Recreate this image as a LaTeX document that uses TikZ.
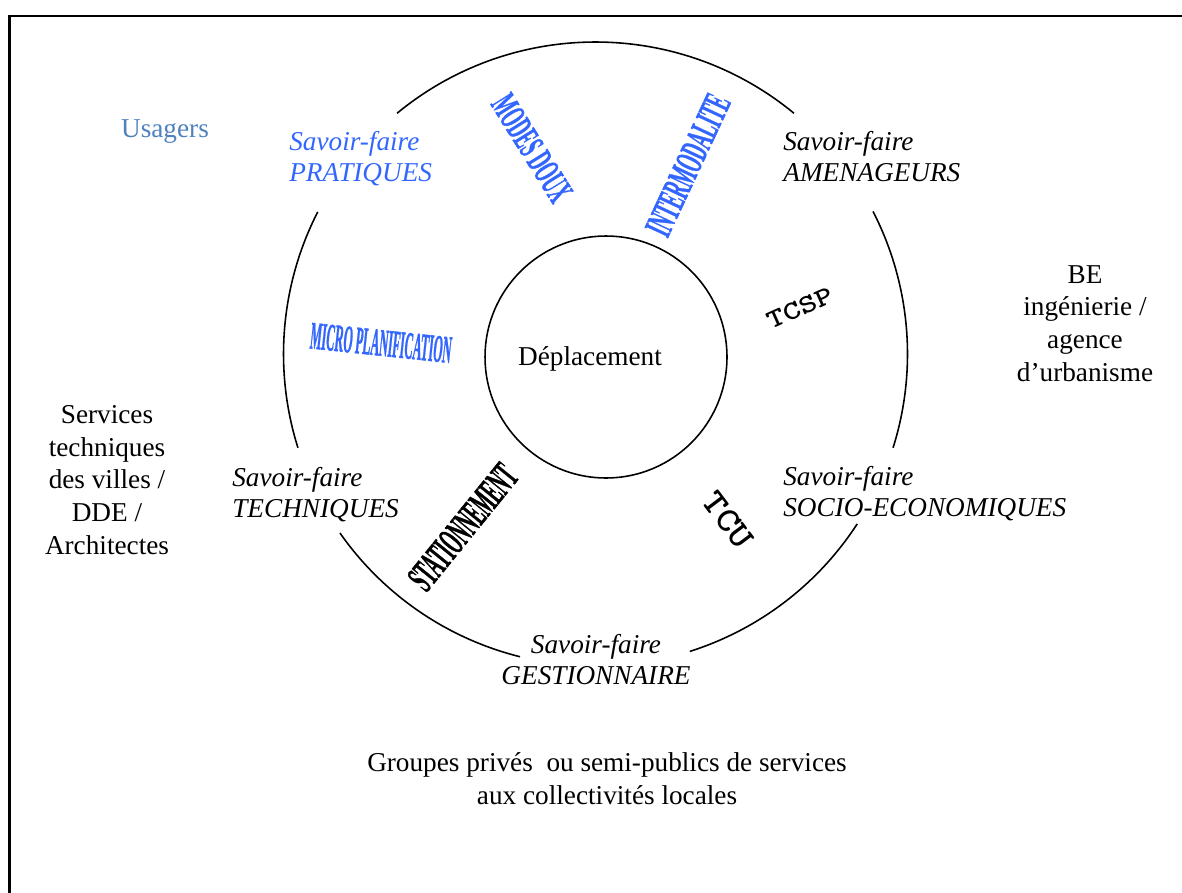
\documentclass[tikz,border=0pt]{standalone}
\usepackage{fontspec}
\setmainfont{Liberation Serif}
\newfontfamily\wafont[BoldFeatures={FakeBold=1.5}]{Liberation Serif}
\usetikzlibrary{positioning}
\definecolor{bl}{RGB}{51,102,255}
\definecolor{us}{RGB}{79,129,189}

\tikzset{
    plain/.style={font=\fontsize{15.5}{18.5}\selectfont, align=center, inner sep=0pt},
    savoir/.style={font=\fontsize{15.5}{17.1}\selectfont\itshape, align=left, inner sep=0pt},
    wart/.style={font=\fontsize{17}{17}\selectfont\wafont\bfseries, inner sep=0pt},
    mono/.style={font=\fontsize{19}{19}\selectfont\ttfamily\bfseries, inner sep=0pt}
}

\begin{document}
\begin{tikzpicture}[x=0.02cm, y=-0.02cm]

			\useasboundingbox (0,0) rectangle (1182,892);
			\clip (0,0) rectangle (1182,892);
			\draw[line width=1.2pt] (9.5,16) rectangle (1220,930);

			% outer ring, broken where the labels sit
			\coordinate (ctr) at (595.5,354);
			\foreach \a/\b in {-50.5/-129.5, -152.9/-197.5, -215/-256, -287.6/-327, 17.5/-27.2} {
					\draw[line width=0.9pt] (ctr) ++(\a:312) arc[start angle=\a, end angle=\b, radius=312];
				}

			\node (depl) [circle, draw, line width=0.9pt, minimum size=4.84cm, inner sep=0pt] at (606,357) {};
			\node (deplt) [plain, anchor=base] at (590,365) {Déplacement};

			% labels (base = last line)
			\node (usag) [plain, anchor=base, text=us] at (165,137) {Usagers};
			\node (prat) [savoir, anchor=base west, text=bl] at (289,181) {Savoir-faire\\PRATIQUES};
			\node (amen) [savoir, anchor=base west] at (783,181) {Savoir-faire\\AMENAGEURS};
			\node (tech) [savoir, anchor=base west] at (232,517) {Savoir-faire\\TECHNIQUES};
			\node (socio) [savoir, anchor=base west] at (783,516) {Savoir-faire\\SOCIO-ECONOMIQUES};
			\node (gest) [savoir, align=center, anchor=base] at (596,684) {Savoir-faire\\GESTIONNAIRE};

			\node (be) [plain, anchor=base] at (1085,381) {BE\\ingénierie /\\agence\\d'urbanisme};
			\node (serv) [plain, anchor=base] at (107,554) {Services\\techniques\\des villes /\\DDE /\\Architectes};
			\node (grp) [plain, anchor=base] at (607,804) {Groupes privés\ \ ou semi-publics de services\\aux collectivités locales};

			% modes
			\node (modes) [wart, text=bl, rotate=-58] at (532,148) {\scalebox{0.58}[1.25]{MODES DOUX}};
			\node (inter) [wart, text=bl, rotate=65] at (688,165) {\scalebox{0.58}[1.3]{INTERMODALITE}};
			\node (micro) [wart, text=bl, rotate=-6] at (381,343) {\scalebox{0.4}[1.3]{MICRO PLANIFICATION}};
			\node (stat) [wart, rotate=51] at (463,527) {\scalebox{0.57}[1.35]{STATIONNEMENT}};
			\node (tcsp) [mono, rotate=24] at (800,308) {\scalebox{1}[0.8]{TCSP}};
			\node (tcu) [mono, rotate=-53] at (728,520) {\scalebox{1.2}[1.05]{TCU}};

		\end{tikzpicture}
\end{document}
